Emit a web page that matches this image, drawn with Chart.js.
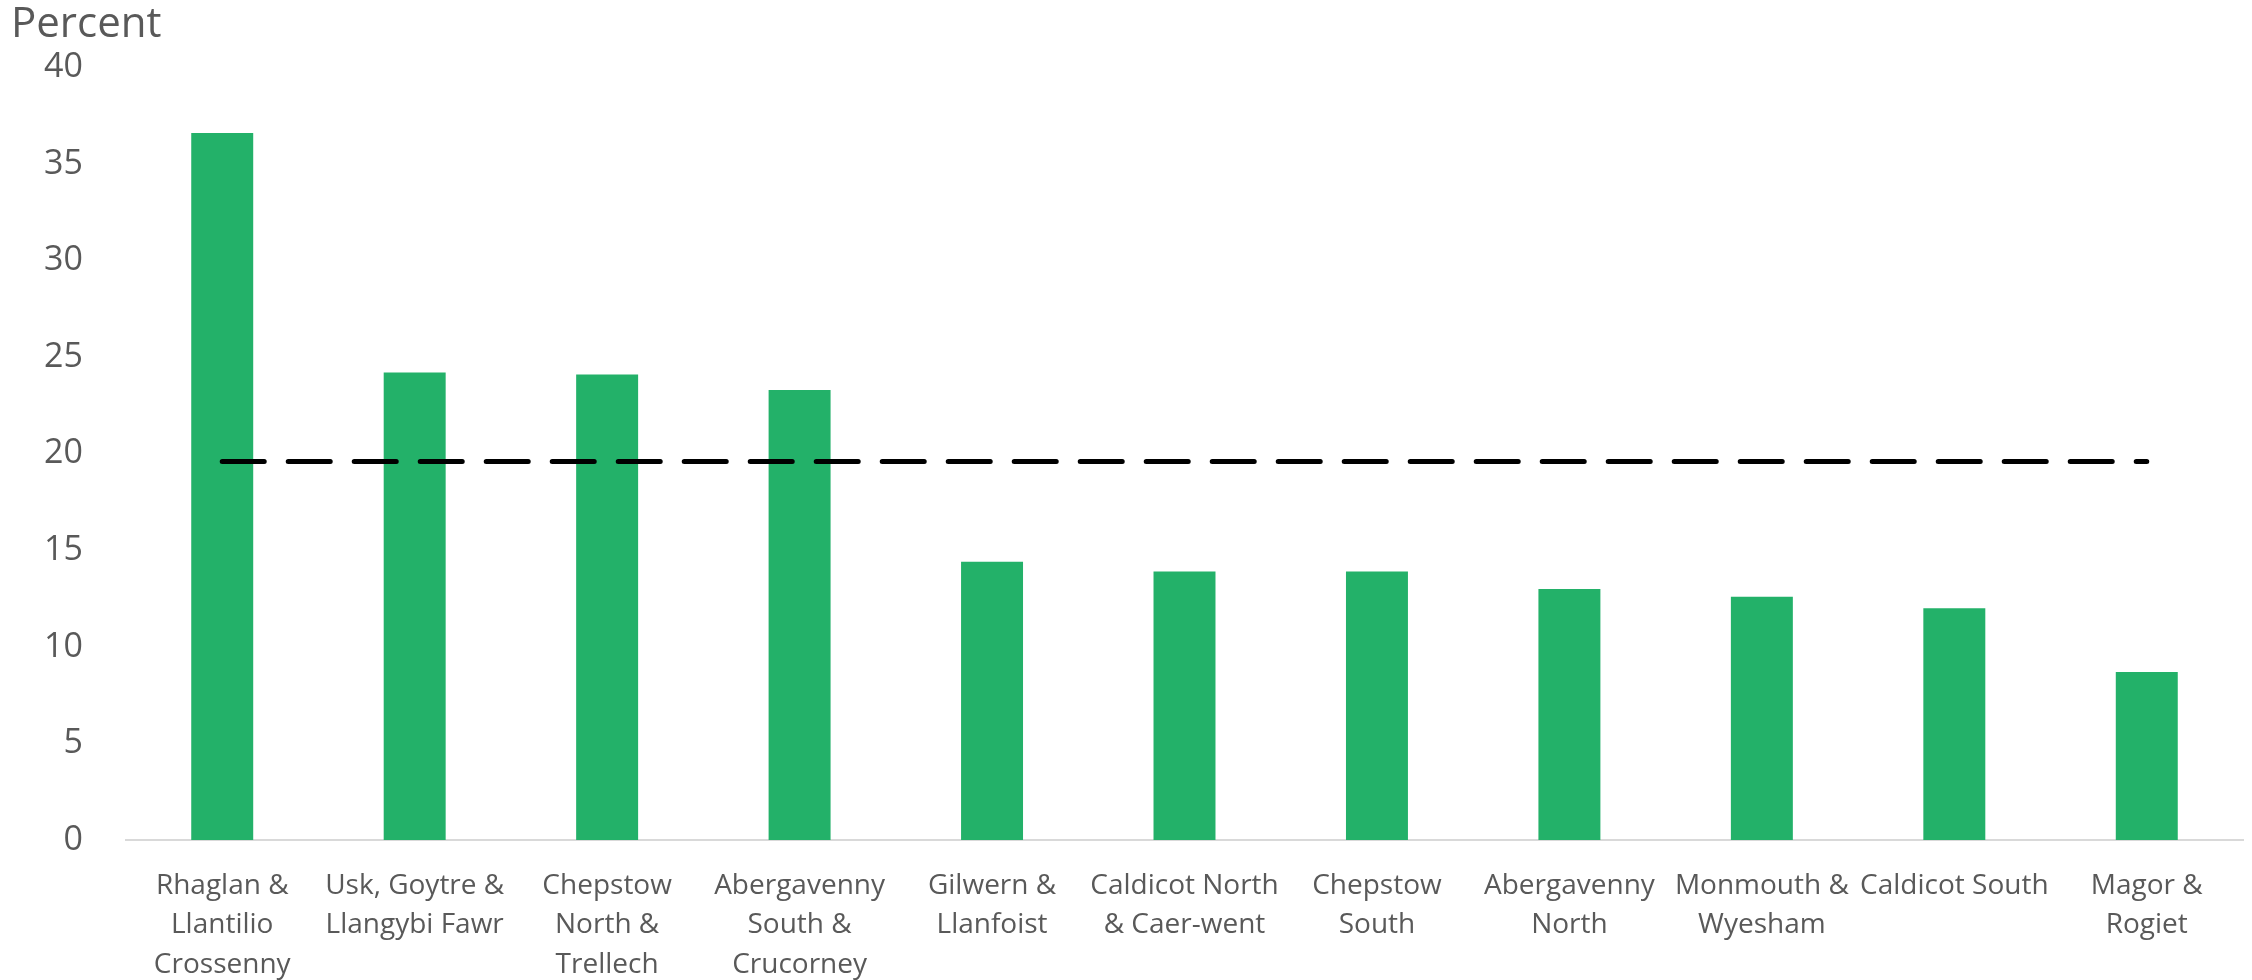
<!DOCTYPE html>
<html>
<head>
<meta charset="utf-8">
<script src="https://cdn.jsdelivr.net/npm/chart.js@4/dist/chart.umd.min.js"></script>
<style>
    html, body { margin: 0; padding: 0; background: #ffffff; }
    #wrap { width: 2252px; height: 980px; }
</style>
</head>
<body>
<div id="wrap"><canvas id="wardChart" width="2252" height="980"></canvas></div>
<script>
// Ward names (wrapped as in the original)
const wards = [
    ['Rhaglan &', 'Llantilio', 'Crossenny'],
    ['Usk, Goytre &', 'Llangybi Fawr'],
    ['Chepstow', 'North &', 'Trellech'],
    ['Abergavenny', 'South &', 'Crucorney'],
    ['Gilwern &', 'Llanfoist'],
    ['Caldicot North', '& Caer-went'],
    ['Chepstow', 'South'],
    ['Abergavenny', 'North'],
    ['Monmouth &', 'Wyesham'],
    ['Caldicot South'],
    ['Magor &', 'Rogiet']
];

// Percent per ward
const wardValues = [36.6, 24.2, 24.1, 23.3, 14.4, 13.9, 13.9, 13.0, 12.6, 12.0, 8.7];

// Reference (dashed) line
const referenceValues = [19.6, 19.6, 19.6, 19.6, 19.6, 19.6, 19.6, 19.6, 19.6, 19.6, 19.6];

// Y axis ticks
const yTicks = [0, 5, 10, 15, 20, 25, 30, 35, 40];

const textColor = '#595959';
const fontFamily = "'Open Sans', sans-serif";

const ctx = document.getElementById('wardChart').getContext('2d');
const wardChart = new Chart(ctx, {
    type: 'bar',
    data: {
        labels: wards,
        datasets: [
            {
                type: 'line',
                data: referenceValues,
                borderColor: '#000000',
                borderWidth: 5,
                borderDash: [42, 24],
                borderCapStyle: 'round',
                pointRadius: 0,
                fill: false,
                order: 0
            },
            {
                type: 'bar',
                data: wardValues,
                backgroundColor: '#23b169',
                barPercentage: 0.322,
                categoryPercentage: 1,
                order: 1
            }
        ]
    },
    options: {
        responsive: false,
        animation: false,
        layout: {
            padding: { left: 11, right: 9, top: 0, bottom: 0 }
        },
        plugins: {
            legend: { display: false },
            tooltip: { enabled: false },
            title: {
                display: true,
                text: 'Percent',
                align: 'start',
                color: textColor,
                font: { family: fontFamily, size: 42, weight: 'normal', lineHeight: 1.2 },
                padding: { top: 0, bottom: 17 }
            }
        },
        scales: {
            x: {
                afterFit: (scale) => { scale.height = 140; },
                grid: { display: false, drawTicks: false },
                border: { display: true, color: '#d9d9d9', width: 2 },
                ticks: {
                    color: textColor,
                    font: { family: fontFamily, size: 28, lineHeight: 1.41 },
                    padding: 26,
                    maxRotation: 0,
                    autoSkip: false
                }
            },
            y: {
                min: 0,
                max: 40,
                afterFit: (scale) => { scale.width = 115; },
                afterBuildTicks: (scale) => {
                    scale.ticks = yTicks.map(v => ({ value: v }));
                },
                grid: { display: false, drawTicks: false },
                border: { display: false },
                ticks: {
                    color: textColor,
                    font: { family: fontFamily, size: 34 },
                    padding: 43
                }
            }
        }
    }
});
</script>
</body>
</html>
